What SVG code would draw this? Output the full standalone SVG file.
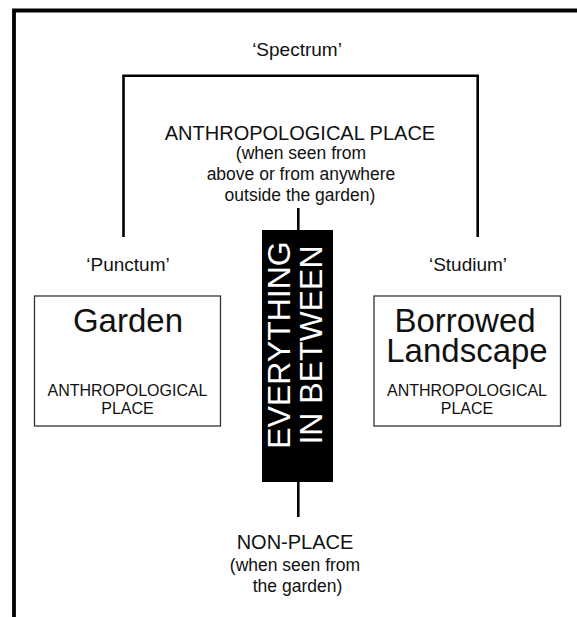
<svg xmlns="http://www.w3.org/2000/svg" width="577" height="617" viewBox="0 0 577 617">
<style>
text{font-family:"Liberation Sans",Arial,sans-serif;fill:#111;text-anchor:middle}
.q{font-size:19px}
.h{font-size:20px}
.s{font-size:17.5px}
.big{font-size:33px}
.small{font-size:16px}
.box{fill:#fff;stroke:#333;stroke-width:1.3}
.ln{fill:none;stroke:#000;stroke-width:2.6}
.frame{fill:none;stroke:#000;stroke-width:3.8}
.white{fill:#fff;font-size:32px}
</style>
<rect width="577" height="617" fill="#fff"/>
<path class="frame" d="M14,617 V10.5 H577"/>
<g id="connectors">
<path class="ln" d="M123.5,237 V75.8 H477.7 V237"/>
<path class="ln" d="M298.3,208 V230"/>
<path class="ln" d="M298.3,482 V517"/>
</g>
<g id="spectrum">
<text class="q" x="297" y="56">‘Spectrum’</text>
</g>
<g id="anthro-top">
<text class="h" x="300" y="140">ANTHROPOLOGICAL PLACE</text>
<text class="s" x="301" y="159">(when seen from</text>
<text class="s" x="301" y="180">above or from anywhere</text>
<text class="s" x="300" y="201">outside the garden)</text>
</g>
<g id="punctum">
<text class="q" x="128" y="271">‘Punctum’</text>
</g>
<g id="studium">
<text class="q" x="468" y="271">‘Studium’</text>
</g>
<g id="garden">
<rect class="box" x="34.5" y="296" width="186" height="130"/>
<text class="big" x="128" y="332">Garden</text>
<text class="small" x="127.5" y="395.5">ANTHROPOLOGICAL</text>
<text class="small" x="127.5" y="414">PLACE</text>
</g>
<g id="borrowed">
<rect class="box" x="374" y="296" width="186.5" height="130"/>
<text class="big" x="465" y="332">Borrowed</text>
<text class="big" x="467" y="362">Landscape</text>
<text class="small" x="467" y="395.5">ANTHROPOLOGICAL</text>
<text class="small" x="467" y="414">PLACE</text>
</g>
<g id="between">
<rect x="262" y="230" width="71" height="252" fill="#000"/>
<text class="white" transform="translate(290,345) rotate(-90)" x="0" y="0">EVERYTHING</text>
<text class="white" transform="translate(322,345) rotate(-90)" x="0" y="0">IN BETWEEN</text>
</g>
<g id="nonplace">
<text class="h" x="295" y="549">NON-PLACE</text>
<text class="s" x="295" y="571">(when seen from</text>
<text class="s" x="297.5" y="592">the garden)</text>
</g>
</svg>
